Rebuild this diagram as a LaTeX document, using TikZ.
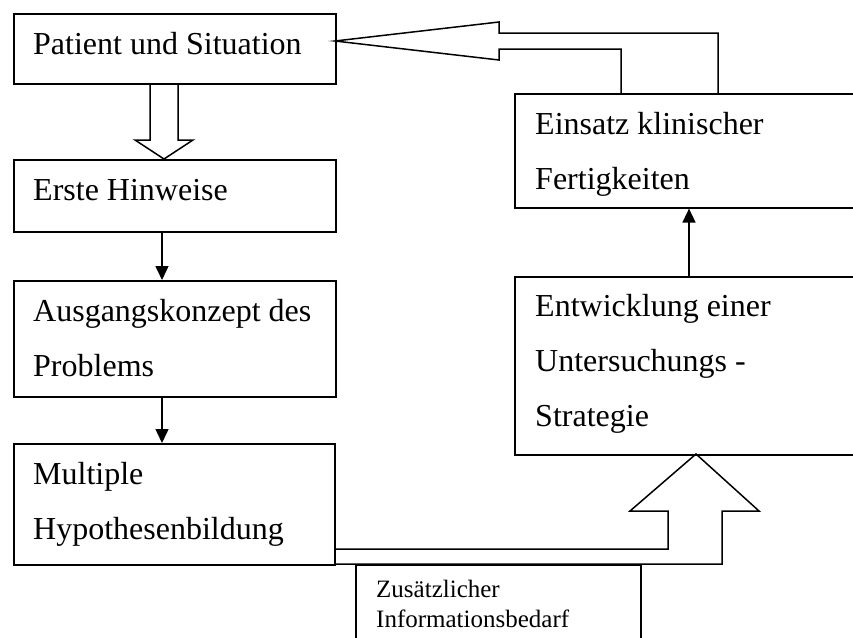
\documentclass[tikz,border=0pt]{standalone}
\usepackage{fontspec}
\setmainfont{Liberation Serif}
\usetikzlibrary{arrows.meta}
\begin{document}
\begin{tikzpicture}[x=1pt,y=-1pt,
  box/.style={draw, line width=1.6pt, inner sep=0pt, anchor=north west},
  txt/.style={inner sep=0pt, anchor=base west, font=\fontsize{32}{38}\selectfont},
  smalltxt/.style={inner sep=0pt, anchor=base west, font=\fontsize{25}{30}\selectfont},
  flow/.style={-{Triangle[length=14pt,width=13pt]}, line width=1.5pt},
  hollow/.style={draw, line width=1.5pt, line join=miter}]
\useasboundingbox (0,0) rectangle (853,637);
\clip (0,0) rectangle (853,637);
\fill[white] (0,0) rectangle (853,637);

% boxes
\node[box, minimum width=322pt, minimum height=70pt]  (b1) at (13,13) {};
\node[box, minimum width=322pt, minimum height=72pt]  (b2) at (13,159) {};
\node[box, minimum width=322pt, minimum height=116pt] (b3) at (13,280) {};
\node[box, minimum width=321pt, minimum height=121pt] (b4) at (13,443) {};
\node[box, minimum width=370pt, minimum height=114pt] (b6) at (514,93) {};
\node[box, minimum width=370pt, minimum height=178pt] (b5) at (514,276) {};
\node[box, minimum width=285pt, minimum height=160pt] (b7) at (355,564) {};

% texts
\node[txt] (t1)  at (33,54)  {Patient und Situation};
\node[txt] (t2)  at (33,200) {Erste Hinweise};
\node[txt] (t3a) at (33,321) {Ausgangskonzept des};
\node[txt] (t3b) at (33,376) {Problems};
\node[txt] (t4a) at (33,484) {Multiple};
\node[txt] (t4b) at (33,539) {Hypothesenbildung};
\node[txt] (t6a) at (535,134) {Einsatz klinischer};
\node[txt] (t6b) at (535,189) {Fertigkeiten};
\node[txt] (t5a) at (535,316) {Entwicklung einer};
\node[txt] (t5b) at (535,371) {Untersuchungs -};
\node[txt] (t5c) at (535,426) {Strategie};
\node[smalltxt] (t7a) at (376,597) {Zusätzlicher};
\node[smalltxt] (t7b) at (376,627) {Informationsbedarf};

% simple flow arrows
\draw[flow] ([xshift=149pt]b2.south west) -- ([xshift=149pt]b3.north west);
\draw[flow] ([xshift=149pt]b3.south west) -- ([xshift=149pt]b4.north west);
\draw[flow] ([xshift=175pt]b5.north west) -- ([xshift=175pt]b6.south west);

% hollow block arrows
\draw[hollow] (150,83) -- (150,140) -- (135,140) -- (164,159) -- (193,140) -- (178,140) -- (178,83);
\draw[hollow] (621,93) -- (621,49) -- (499,49) -- (499,60) -- (335,41) -- (499,22) -- (499,33) -- (718,33) -- (718,93);
\draw[hollow] (334,549) -- (668,549) -- (668,511) -- (630,511) -- (696,454) -- (759,511) -- (722,511) -- (722,564) -- (334,564);
\end{tikzpicture}
\end{document}
